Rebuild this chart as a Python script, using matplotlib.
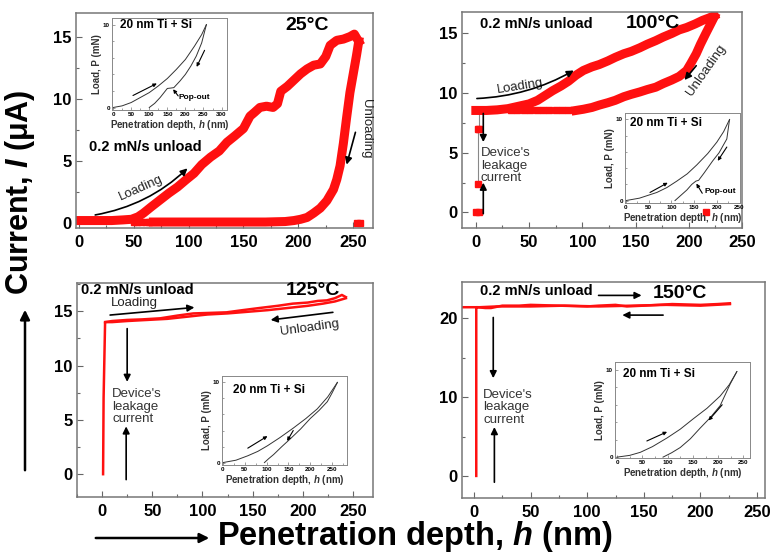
import numpy as np
import matplotlib.pyplot as plt
from matplotlib.ticker import MultipleLocator
from matplotlib.patches import FancyArrowPatch

plt.rcParams['font.family'] = ['Liberation Sans', 'DejaVu Sans']
plt.rcParams['mathtext.fontset'] = 'custom'
plt.rcParams['mathtext.rm'] = 'Liberation Sans:bold'
plt.rcParams['mathtext.it'] = 'Liberation Sans:italic:bold'
plt.rcParams['mathtext.bf'] = 'Liberation Sans:bold'

# ---- 25 C: current vs depth
h25_load = [0, 10, 20, 30, 40, 48, 54, 59, 66, 74, 82, 90, 98, 105, 112, 120, 128, 135, 142,
            150, 156, 160, 165, 171, 177, 181, 184, 190, 196, 202, 208, 214, 220, 225, 229,
            235, 241, 247, 251, 255]
i25_load = [0.2, 0.2, 0.2, 0.2, 0.25, 0.3, 0.5, 0.8, 1.3, 1.85, 2.4, 2.9, 3.5, 4.0, 4.7, 5.3,
            5.8, 6.5, 7.0, 7.6, 8.6, 8.9, 9.3, 9.4, 9.3, 9.6, 10.6, 11.0, 11.5, 12.0, 12.4,
            12.7, 12.8, 13.4, 14.3, 14.7, 14.8, 15.0, 15.2, 14.6]
h25_unload = [255, 253, 250, 247, 244, 241, 238, 235, 232, 226, 220, 214, 208, 202, 196, 188,
              170, 150, 120, 90, 68]
i25_unload = [14.6, 13.5, 12.0, 10.5, 8.5, 6.4, 4.6, 3.5, 2.7, 1.8, 1.2, 0.8, 0.45, 0.3, 0.2,
              0.12, 0.08, 0.08, 0.08, 0.08, 0.08]
h25_dots = [50, 53, 57, 61, 64, 253, 256]
i25_dots = [0.1, 0.1, 0.1, 0.1, 0.1, 0.0, 0.0]

# ---- 100 C
h100_load = [0, 10, 20, 30, 40, 50, 58, 65, 72, 80, 87, 94, 101, 109, 116, 124, 131, 139, 146,
             154, 161, 169, 176, 184, 191, 198, 206, 213, 219, 224]
i100_load = [8.55, 8.55, 8.6, 8.7, 8.9, 9.1, 9.4, 9.8, 10.2, 10.6, 11.0, 11.5, 11.9, 12.2, 12.4,
             12.7, 13.0, 13.3, 13.5, 13.8, 14.1, 14.4, 14.7, 15.0, 15.3, 15.5, 15.8, 16.1, 16.3,
             16.5]
h100_unload = [224, 220, 216, 211, 207, 202, 198, 191, 184, 176, 169, 161, 154, 146, 139, 131,
               124, 116, 109, 101, 94]
i100_unload = [16.4, 15.7, 15.0, 14.1, 13.3, 12.5, 11.9, 11.4, 11.1, 10.8, 10.5, 10.3, 10.1,
               9.9, 9.7, 9.4, 9.2, 9.0, 8.8, 8.65, 8.55]
h100_dots = [33, 39, 45, 51, 57, 63, 69, 75, 81, 87]
i100_dots = [8.55] * 10
h100_leak = [3, 3, 2, 2, 0, 3, 216]
i100_leak = [8.55, 7.0, 7.0, 2.4, 0.0, 0.0, 0.05]

# ---- 125 C
h125_load = [1, 1.5, 3, 10, 25, 40, 58, 75, 91, 108, 124, 140, 157, 175, 190, 205, 215, 224,
             232, 239, 243]
i125_load = [0, 7, 14.0, 14.1, 14.2, 14.25, 14.35, 14.6, 14.8, 14.85, 14.9, 15.1, 15.3, 15.5,
             15.7, 15.8, 15.95, 16.0, 16.2, 16.5, 16.3]
h125_unload = [243, 232, 220, 205, 185, 165, 145, 125, 105, 85, 65, 45, 25, 10, 3]
i125_unload = [16.2, 15.9, 15.7, 15.5, 15.3, 15.1, 14.95, 14.8, 14.7, 14.5, 14.3, 14.2, 14.1,
               14.0, 14.0]

# ---- 150 C
h150_load = [2, 2, 3, 10, 15, 25, 40, 50, 75, 100, 110, 125, 135, 150, 175, 200, 215, 226]
i150_load = [0, 21.4, 21.4, 21.3, 21.3, 21.6, 21.6, 21.7, 21.6, 21.5, 21.6, 21.7, 21.5, 21.6,
             21.8, 21.7, 21.8, 21.9]
h150_unload = [226, 200, 170, 140, 110, 80, 50, 20, 5, 0, -10]
i150_unload = [21.8, 21.6, 21.7, 21.6, 21.5, 21.6, 21.5, 21.5, 21.4, 21.4, 21.4]

# ---- insets: load vs depth
in25_hl = [0, 25, 50, 75, 100, 125, 150, 175, 200, 225, 245, 258]
in25_pl = [0, 0.2, 0.6, 1.2, 1.8, 2.6, 3.5, 4.6, 5.8, 7.4, 8.8, 10]
in25_hu = [258, 245, 230, 215, 200, 185, 168, 160, 150, 130, 115, 100]
in25_pu = [10, 7.8, 6.2, 5.0, 4.0, 3.2, 2.4, 2.35, 2.3, 1.2, 0.5, 0]

in100_hl = [0, 30, 68, 90, 112, 135, 156, 180, 200, 215, 228]
in100_pl = [0, 0.3, 1.0, 1.6, 2.4, 3.3, 4.4, 5.8, 7.2, 8.5, 10]
in100_hu = [228, 222, 205, 191, 172, 160, 154, 145, 134, 120, 108]
in100_pu = [10, 7.6, 5.9, 4.9, 3.4, 2.5, 2.4, 2.0, 1.3, 0.6, 0]

in125_hl = [0, 30, 57, 80, 102, 130, 161, 190, 216, 240, 262]
in125_pl = [0, 0.3, 0.85, 1.4, 2.1, 3.1, 4.3, 5.5, 6.7, 8.2, 10]
in125_hu = [262, 250, 239, 220, 200, 178, 155, 135, 116, 105, 95]
in125_pu = [10, 8.7, 7.6, 6.5, 5.5, 4.2, 3.0, 2.0, 1.0, 0.5, 0]

in150_hl = [0, 25, 46, 70, 99, 125, 151, 178, 204, 222, 237]
in150_pl = [0, 0.2, 0.55, 1.2, 2.2, 3.2, 4.4, 5.6, 7.0, 8.3, 9.8]
in150_hu = [237, 224, 204, 184, 164, 145, 125, 108, 91]
in150_pu = [9.8, 8.4, 5.9, 4.5, 3.3, 2.1, 1.1, 0.5, 0]

W, H = 776, 555


def rect(l, t, r, b):
    return [l / W, 1 - b / H, (r - l) / W, (b - t) / H]


def style_main(ax, xlim, ylim, yticks, yminor):
    ax.set_xlim(xlim)
    ax.set_ylim(ylim)
    ax.set_xticks([0, 50, 100, 150, 200, 250])
    ax.xaxis.set_minor_locator(MultipleLocator(25))
    ax.set_yticks(yticks)
    ax.yaxis.set_minor_locator(MultipleLocator(yminor))
    ax.tick_params(which='both', direction='in', top=False, right=False,
                   color='#666', labelsize=12)
    ax.tick_params(which='major', length=4, width=0.8)
    ax.tick_params(which='minor', length=2, width=0.8)
    ax.tick_params(axis='x', pad=5)
    ax.tick_params(axis='y', pad=3)
    for lab in ax.get_xticklabels() + ax.get_yticklabels():
        lab.set_fontweight('bold')
    for s in ax.spines.values():
        s.set_color('#777')
        s.set_linewidth(1.1)


def style_inset(ax, xlim, xticks):
    ax.set_xlim(xlim)
    ax.set_ylim(-0.3, 10.8)
    ax.set_xticks(xticks)
    ax.xaxis.set_minor_locator(MultipleLocator(25))
    ax.set_yticks([0, 10])
    ax.yaxis.set_minor_locator(MultipleLocator(2))
    ax.tick_params(which='both', direction='in', top=False, right=False,
                   color='#777', labelsize=4.5, pad=1.5)
    ax.tick_params(which='major', length=2, width=0.5)
    ax.tick_params(which='minor', length=1.2, width=0.5)
    for lab in ax.get_xticklabels() + ax.get_yticklabels():
        lab.set_fontweight('bold')
    for s in ax.spines.values():
        s.set_color('#888')
        s.set_linewidth(0.7)
    ax.set_xlabel('Penetration depth, $\\mathit{h}$ (nm)', fontsize=7, fontweight='bold',
                  labelpad=0.5, color='#333')
    ax.set_ylabel('Load, P (mN)', fontsize=7, fontweight='bold', labelpad=1, color='#333')


def arrow(ax, tail, head, rad=0.0, lw=1.2, ms=10, color='k'):
    ax.annotate('', xy=head, xytext=tail,
                arrowprops=dict(arrowstyle='-|>', color=color, lw=lw, shrinkA=0, shrinkB=0,
                                mutation_scale=ms, connectionstyle='arc3,rad=%s' % rad))


red = '#ff1010'
fig = plt.figure(figsize=(7.76, 5.55), dpi=100)

# ---------------- panel 25 C
ax1 = fig.add_axes(rect(76, 13, 373, 228))
ax1.plot(h25_load, i25_load, color=red, lw=6.5, solid_joinstyle='round')
ax1.plot(h25_unload, i25_unload, color=red, lw=6.5, solid_joinstyle='round')
ax1.plot(h25_dots, i25_dots, 's', color=red, ms=4.5)
style_main(ax1, (-2.5, 268), (-0.4, 16.9), [0, 5, 10, 15], 2.5)
ax1.text(208, 15.9, '25°C', fontsize=14, fontweight='bold', ha='center', va='center')
ax1.text(61, 6.1, '0.2 mN/s unload', fontsize=10.5, fontweight='bold', ha='center', va='center')
ax1.text(57, 2.8, 'Loading', fontsize=9.5, rotation=24, ha='center', va='center', color='#222')
arrow(ax1, (15, 0.65), (99, 4.4), rad=0.15)
ax1.text(262, 7.6, 'Unloading', fontsize=9.5, rotation=-90, ha='center', va='center',
         color='#222')
arrow(ax1, (252, 7.3), (244, 4.7))

in1 = fig.add_axes(rect(112, 18, 227, 110))
in1.plot(in25_hl, in25_pl, color='#333', lw=0.7)
in1.plot(in25_hu, in25_pu, color='#333', lw=0.7)
style_inset(in1, (-3, 315), [0, 50, 100, 150, 200, 250, 300])
in1.text(19, 10.0, '20 nm Ti + Si', fontsize=8.5, fontweight='bold', va='center')
arrow(in1, (55, 1.45), (121, 2.9), lw=0.8, ms=5)
arrow(in1, (253, 6.9), (231, 4.9), lw=0.8, ms=5)
arrow(in1, (180, 1.4), (166, 2.2), lw=0.8, ms=5)
in1.text(182, 1.2, 'Pop-out', fontsize=6, fontweight='bold', va='center')

# ---------------- panel 100 C
ax2 = fig.add_axes(rect(462, 12, 742, 228))
ax2.plot(h100_leak[:4], i100_leak[:4], color='#888', lw=0.8)
ax2.plot(h100_leak, i100_leak, 's', color=red, ms=4)
ax2.plot(h100_dots, i100_dots, 's', color=red, ms=5)
ax2.plot(h100_load, i100_load, color=red, lw=6.5, solid_joinstyle='round')
ax2.plot(h100_unload, i100_unload, color=red, lw=6.5, solid_joinstyle='round')
style_main(ax2, (-13, 236), (-1.3, 16.8), [0, 5, 10, 15], 2.5)
ax2.text(4, 15.8, '0.2 mN/s unload', fontsize=10.5, fontweight='bold', ha='left', va='center')
ax2.text(166, 15.8, '100°C', fontsize=14, fontweight='bold', ha='center', va='center')
ax2.text(42, 10.6, 'Loading', fontsize=9.5, rotation=9, ha='center', va='center', color='#222')
arrow(ax2, (1, 9.55), (92, 11.9), rad=0.12)
ax2.text(216, 11.9, 'Unloading', fontsize=9.5, rotation=55, ha='center', va='center',
         color='#222')
arrow(ax2, (207, 12.3), (196, 11.1))
ax2.text(4.5, 3.9, "Device's\nleakage\ncurrent", fontsize=9.5, ha='left', va='center',
         linespacing=1.05, color='#333')
arrow(ax2, (7, 8.3), (7, 5.9))
arrow(ax2, (7, -0.1), (7, 2.5))

in2 = fig.add_axes(rect(625, 113, 740, 203))
in2.plot(in100_hl, in100_pl, color='#333', lw=0.7)
in2.plot(in100_hu, in100_pu, color='#333', lw=0.7)
style_inset(in2, (-2, 251), [0, 50, 100, 150, 200, 250])
in2.text(9, 9.6, '20 nm Ti + Si', fontsize=8.5, fontweight='bold', va='center')
arrow(in2, (53, 1.0), (92, 2.2), lw=0.8, ms=5)
arrow(in2, (222, 6.6), (202, 4.9), lw=0.8, ms=5)
arrow(in2, (168, 0.9), (155, 2.1), lw=0.8, ms=5)
in2.text(172, 1.1, 'Pop-out', fontsize=6, fontweight='bold', va='center')

# ---------------- panel 125 C
ax3 = fig.add_axes(rect(77, 283, 373, 497))
ax3.plot(h125_unload, i125_unload, color=red, lw=1.8)
ax3.plot(h125_load, i125_load, color=red, lw=1.8)
style_main(ax3, (-25, 270), (-2.1, 17.6), [0, 5, 10, 15], 2.5)
ax3.text(-21, 17.0, '0.2 mN/s unload', fontsize=10.5, fontweight='bold', ha='left', va='center')
ax3.text(210, 16.9, '125°C', fontsize=14, fontweight='bold', ha='center', va='center')
ax3.text(32, 15.75, 'Loading', fontsize=9.5, ha='center', va='center', color='#222')
arrow(ax3, (8, 14.65), (92, 15.35))
ax3.text(207, 13.5, 'Unloading', fontsize=9.5, rotation=8, ha='center', va='center',
         color='#222')
arrow(ax3, (230, 14.9), (168, 14.2))
ax3.text(10, 6.2, "Device's\nleakage\ncurrent", fontsize=9.5, ha='left', va='center',
         linespacing=1.05, color='#333')
arrow(ax3, (25, 13.4), (25, 8.5))
arrow(ax3, (24, -0.5), (24, 4.4))

in3 = fig.add_axes(rect(222, 376, 347, 465))
in3.plot(in125_hl, in125_pl, color='#333', lw=0.7)
in3.plot(in125_hu, in125_pu, color='#333', lw=0.7)
style_inset(in3, (-2, 284), [0, 50, 100, 150, 200, 250])
in3.text(23, 9.1, '20 nm Ti + Si', fontsize=8.5, fontweight='bold', va='center')
arrow(in3, (57, 1.8), (102, 3.3), lw=0.8, ms=5)
arrow(in3, (161, 4.0), (147, 2.7), lw=0.8, ms=5)

# ---------------- panel 150 C
ax4 = fig.add_axes(rect(462, 282, 765, 498))
ax4.plot(h150_unload, i150_unload, color=red, lw=1.8)
ax4.plot(h150_load, i150_load, color=red, lw=1.8)
style_main(ax4, (-10.6, 257), (-2.8, 24.6), [0, 10, 20], 5)
ax4.text(55, 23.5, '0.2 mN/s unload', fontsize=10.5, fontweight='bold', ha='center', va='center')
ax4.text(182, 23.2, '150°C', fontsize=14, fontweight='bold', ha='center', va='center')
arrow(ax4, (110, 22.9), (148, 22.9))
arrow(ax4, (167, 20.4), (131, 20.4))
ax4.text(8, 8.7, "Device's\nleakage\ncurrent", fontsize=9.5, ha='left', va='center',
         linespacing=1.05, color='#333')
arrow(ax4, (17, 20.1), (17, 12.4))
arrow(ax4, (18, -0.8), (18, 6.2))

in4 = fig.add_axes(rect(615, 362, 750, 458))
in4.plot(in150_hl, in150_pl, color='#333', lw=0.7)
in4.plot(in150_hu, in150_pu, color='#333', lw=0.7)
style_inset(in4, (-4, 263), [0, 50, 100, 150, 200, 250])
in4.set_ylim(-0.1, 10.9)
in4.text(12, 9.5, '20 nm Ti + Si', fontsize=8.5, fontweight='bold', va='center')
arrow(in4, (59, 1.85), (99, 2.9), lw=0.8, ms=5)
arrow(in4, (208, 6.0), (181, 4.2), lw=0.8, ms=5)

# ---------------- shared axis titles
fig.text(20 / W, 1 - 192 / H, 'Current, $\\mathit{I}$ (μA)', rotation=90, fontsize=22,
         fontweight='bold', ha='center', va='center')
fig.text(217 / W, 1 - 537 / H, 'Penetration depth, $\\mathit{h}$ (nm)', fontsize=23.5,
         fontweight='bold', ha='left', va='center')
fig.patches.append(FancyArrowPatch(
    (25 / W, 1 - 473 / H), (25 / W, 1 - 307 / H), transform=fig.transFigure,
    arrowstyle='-|>', mutation_scale=14, lw=1.8, color='k'))
fig.patches.append(FancyArrowPatch(
    (93 / W, 1 - 538 / H), (212 / W, 1 - 538 / H), transform=fig.transFigure,
    arrowstyle='-|>', mutation_scale=14, lw=1.8, color='k'))

fig.savefig('out.png', dpi=100)
